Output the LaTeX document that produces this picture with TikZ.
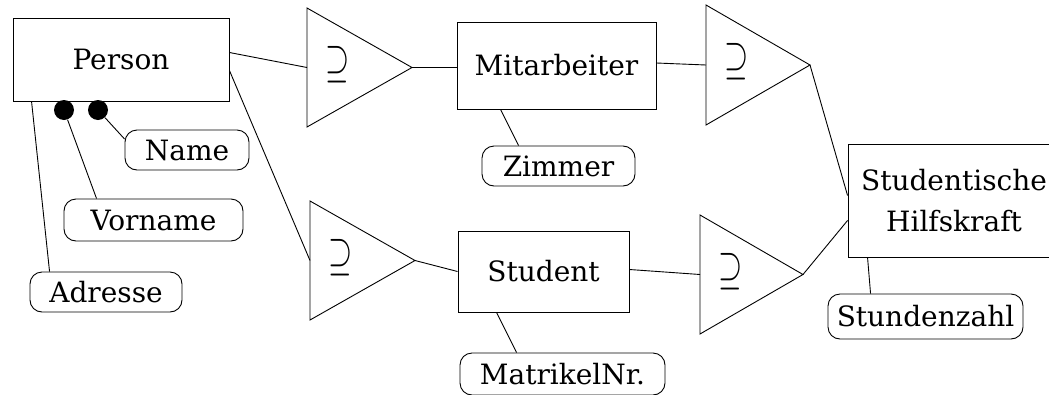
\documentclass[tikz,border=0pt]{standalone}
\usepackage{fontspec}
\setmainfont{DejaVu Serif}
\usepackage{tikz}
\usetikzlibrary{calc}

\begin{document}
\begin{tikzpicture}[x=1pt,y=-1pt,line width=0.9pt,
  every node/.style={font=\fontsize{28}{41}\selectfont},
  entity/.style={draw,inner sep=0pt,align=center},
  attr/.style={draw,rounded corners=12pt,inner sep=0pt},
  key/.style={circle,fill,inner sep=0pt,minimum size=20pt}]
  \useasboundingbox (0,0) rectangle (1049,394);
  % Entitaeten
  \node[entity,minimum width=216,minimum height=83] (Person) at (121,59.5) {Person};
  \node[entity,minimum width=199,minimum height=87] (Mitarbeiter) at (556.5,65.5) {Mitarbeiter};
  \node[entity,minimum width=171,minimum height=81] (Student) at (543.5,271.5) {Student};
  \node[entity,minimum width=212,minimum height=113] (SHK) at (954,200.5) {Studentische\\Hilfskraft};
  % Attribute
  \node[attr,minimum width=124,minimum height=40] (Name) at (187,150) {Name};
  \node[attr,minimum width=179,minimum height=42] (Vorname) at (153.5,220) {Vorname};
  \node[attr,minimum width=152,minimum height=40] (Adresse) at (106,292) {Adresse};
  \node[attr,minimum width=153,minimum height=40] (Zimmer) at (558.5,166) {Zimmer};
  \node[attr,minimum width=205,minimum height=42] (Matrikel) at (562.5,374) {MatrikelNr.};
  \node[attr,minimum width=195,minimum height=45] (Stundenzahl) at (925.5,316.5) {Stundenzahl};
  \node[key] (k1) at (64,110) {};
  \node[key] (k2) at (98,110) {};
  % Generalisierungen
  \foreach \g/\l/\t/\b/\ax in {g1/307/8/127/412, g2/310/201/320/415,
                               g3/706/5/125/810, g4/700/215/334/803} {
    \draw (\l,\t) -- (\ax,{(\t+\b)/2}) -- (\l,\b) -- cycle;
    \coordinate (\g-in) at (\l,{(\t+\b)/2});
    \coordinate (\g-out) at (\ax,{(\t+\b)/2});
    \node (\g-sym) at (\l+31,{(\t+\b)/2-3}) {\scalebox{1.25}[1.9]{$\supseteq$}};
  }
  \draw ($(Person.east)+(0,-7)$) -- (g1-in);
  \draw ($(Person.east)+(0,11)$) -- (g2-in);
  \draw (g1-out) -- ($(Mitarbeiter.west)+(0,2)$);
  \draw (g2-out) -- (Student.west);
  \draw ($(Mitarbeiter.east)+(0,-2.5)$) -- (g3-in);
  \draw ($(Student.east)+(0,-2)$) -- (g4-in);
  \draw (g3-out) -- ($(SHK.west)+(0,-5)$);
  \draw (g4-out) -- ($(SHK.west)+(0,20)$);
  % Attributkanten
  \draw (k2) -- ($(Name.west)+(0,-11)$);
  \draw (k1) -- ($(Vorname.north west)+(33,0)$);
  \draw ($(Person.south west)+(19,0)$) -- ($(Adresse.north west)+(20,0)$);
  \draw ($(Mitarbeiter.south west)+(44,0)$) -- ($(Zimmer.north west)+(37,0)$);
  \draw ($(Student.south west)+(39,0)$) -- ($(Matrikel.north west)+(57,0)$);
  \draw ($(SHK.south west)+(20,0)$) -- ($(Stundenzahl.north west)+(43,0)$);
\end{tikzpicture}
\end{document}
